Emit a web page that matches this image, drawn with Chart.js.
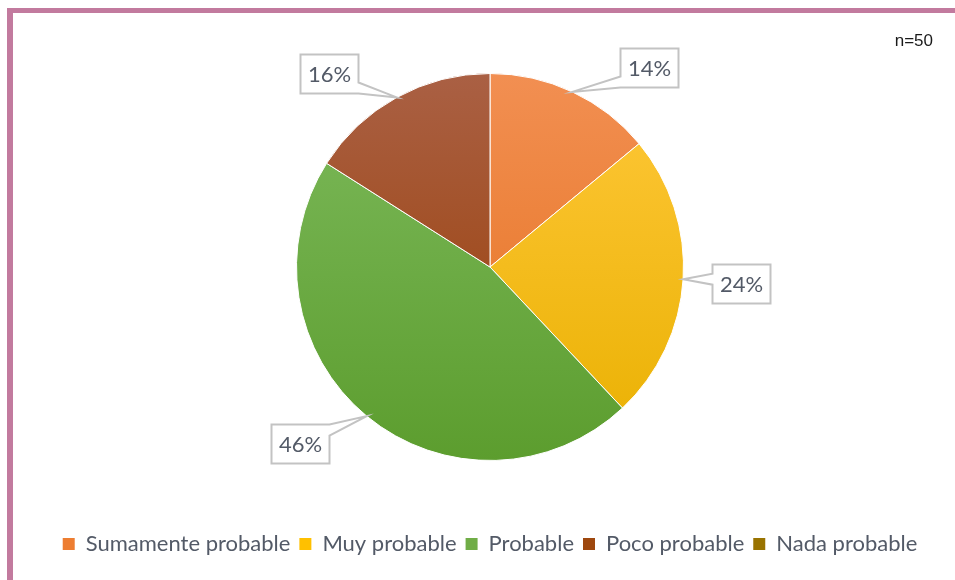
<!DOCTYPE html>
<html lang="es">
<head>
<meta charset="utf-8">
<script src="https://cdn.jsdelivr.net/npm/chart.js@4.4.1/dist/chart.umd.min.js"></script>
<style>
  html, body { margin: 0; padding: 0; background: #fff; }
  #frame {
    position: absolute; left: 7px; top: 8px; width: 948px; height: 572px;
    border-top: 5px solid #c27a9e; border-left: 6px solid #c27a9e;
    box-sizing: border-box;
  }
  #wrap { position: absolute; left: 0; top: 0; width: 955px; height: 580px; }
  #nlabel {
    position: absolute; right: 22px; top: 31px;
    font: 17px "Liberation Sans", Arial, sans-serif; color: #1a1a1a;
  }
</style>
</head>
<body>
<div id="frame"></div>
<div id="wrap"><canvas id="pieChart" width="955" height="580"></canvas></div>
<div id="nlabel">n=50</div>
<script>
  const categories = ["Sumamente probable", "Muy probable", "Probable", "Poco probable", "Nada probable"];
  const percents = [14, 24, 46, 16, 0];

  // color base y degradado vertical (claro arriba, oscuro abajo)
  const baseColors = ["#ED7D31", "#FFC000", "#70AD47", "#9E480E", "#997300"];
  const topColors = ["#f28f52", "#ffc83a", "#7dba5c", "#aa6044", "#a8842a"];
  const bottomColors = ["#e4701c", "#e9b000", "#5c9d2e", "#983c00", "#8a6600"];

  // ajuste fino de la posición de cada etiqueta respecto a su dirección radial
  const labelNudge = [[50, 32], [-4, 0], [-27, -20], [-38, 30], [0, 0]];

  const TEXT_COLOR = "#535a67";
  const FONT_FAMILY = '"Lato", "Open Sans", sans-serif';
  const LEGEND_ROW_Y = 544;

  const gradientFor = (context) => {
    const i = context.dataIndex;
    const area = context.chart.chartArea;
    if (!area) return baseColors[i];
    const g = context.chart.ctx.createLinearGradient(0, area.top, 0, area.bottom);
    g.addColorStop(0, topColors[i]);
    g.addColorStop(1, bottomColors[i]);
    return g;
  };

  // baja la leyenda hasta su fila, dejando el área del gráfico intacta
  const legendShift = {
    id: "legendShift",
    afterLayout(chart) {
      const lg = chart.legend;
      if (!lg) return;
      const padding = lg.options.labels.padding;
      const itemH = lg.options.labels.font.size;
      const rowCenter = lg.top + padding + itemH / 2;
      const delta = LEGEND_ROW_Y - rowCenter;
      lg.top += delta;
      lg.bottom += delta;
    }
  };

  const calloutPlugin = {
    id: "callouts",
    afterDatasetsDraw(chart) {
      const ctx = chart.ctx;
      const meta = chart.getDatasetMeta(0);
      ctx.save();
      ctx.font = "22px " + FONT_FAMILY;
      meta.data.forEach((arc, i) => {
        const value = percents[i];
        if (!value) return;
        const { x, y, startAngle, endAngle, outerRadius } = arc.getProps(["x", "y", "startAngle", "endAngle", "outerRadius"], true);
        const mid = (startAngle + endAngle) / 2;
        const tipX = x + Math.cos(mid) * outerRadius;
        const tipY = y + Math.sin(mid) * outerRadius;
        const dist = outerRadius + 62;
        const cx = x + Math.cos(mid) * dist + labelNudge[i][0];
        const cy = y + Math.sin(mid) * dist + labelNudge[i][1];
        const text = value + "%";
        const w = 58, h = 39;
        const l = Math.round(cx - w / 2) + 0.5, t = Math.round(cy - h / 2) + 0.5;
        const r = l + w, b = t + h;
        const base = 11;

        // contorno del globo con el pico hacia el sector
        const dx = tipX - cx, dy = tipY - cy;
        const pts = [];
        if (Math.abs(dx) / (w / 2) > Math.abs(dy) / (h / 2)) {
          const y0 = Math.min(Math.max(tipY - base / 2, t), b - base);
          if (dx < 0) {
            pts.push([l, t], [r, t], [r, b], [l, b], [l, y0 + base], [tipX, tipY], [l, y0]);
          } else {
            pts.push([l, t], [r, t], [r, y0], [tipX, tipY], [r, y0 + base], [r, b], [l, b]);
          }
        } else {
          const x0 = Math.min(Math.max(tipX - base / 2, l), r - base);
          if (dy < 0) {
            pts.push([l, t], [x0, t], [tipX, tipY], [x0 + base, t], [r, t], [r, b], [l, b]);
          } else {
            pts.push([l, t], [r, t], [r, b], [x0 + base, b], [tipX, tipY], [x0, b], [l, b]);
          }
        }
        ctx.beginPath();
        pts.forEach((p, k) => (k ? ctx.lineTo(p[0], p[1]) : ctx.moveTo(p[0], p[1])));
        ctx.closePath();
        ctx.fillStyle = "#ffffff";
        ctx.fill();
        ctx.lineWidth = 2;
        ctx.strokeStyle = "#c3c3c3";
        ctx.stroke();

        ctx.fillStyle = TEXT_COLOR;
        ctx.textAlign = "center";
        ctx.textBaseline = "middle";
        ctx.fillText(text, l + w / 2, t + h / 2 + 1);
      });
      ctx.restore();
    }
  };

  const init = () => {
    const ctx = document.getElementById("pieChart");
    const legendPadding = 9;
    const legendHeight = 22 + legendPadding + 10;
    new Chart(ctx, {
      type: "pie",
      data: {
        labels: categories,
        datasets: [{
          data: percents,
          backgroundColor: gradientFor,
          borderColor: "#ffffff",
          borderWidth: 1
        }]
      },
      options: {
        responsive: false,
        animation: false,
        layout: { padding: { top: 73, left: 25, right: 0, bottom: 580 - 461 - legendHeight } },
        plugins: {
          tooltip: { enabled: false },
          legend: {
            position: "bottom",
            labels: {
              boxWidth: 12,
              boxHeight: 12,
              padding: legendPadding,
              color: TEXT_COLOR,
              font: { family: FONT_FAMILY, size: 22 },
              generateLabels: () => categories.map((c, i) => ({
                text: c,
                fillStyle: baseColors[i],
                strokeStyle: baseColors[i],
                fontColor: TEXT_COLOR,
                lineWidth: 0,
                hidden: false,
                index: i
              }))
            }
          }
        }
      },
      plugins: [legendShift, calloutPlugin]
    });
  };

  if (document.readyState === "loading") {
    document.addEventListener("DOMContentLoaded", init);
  } else {
    init();
  }
</script>
</body>
</html>
